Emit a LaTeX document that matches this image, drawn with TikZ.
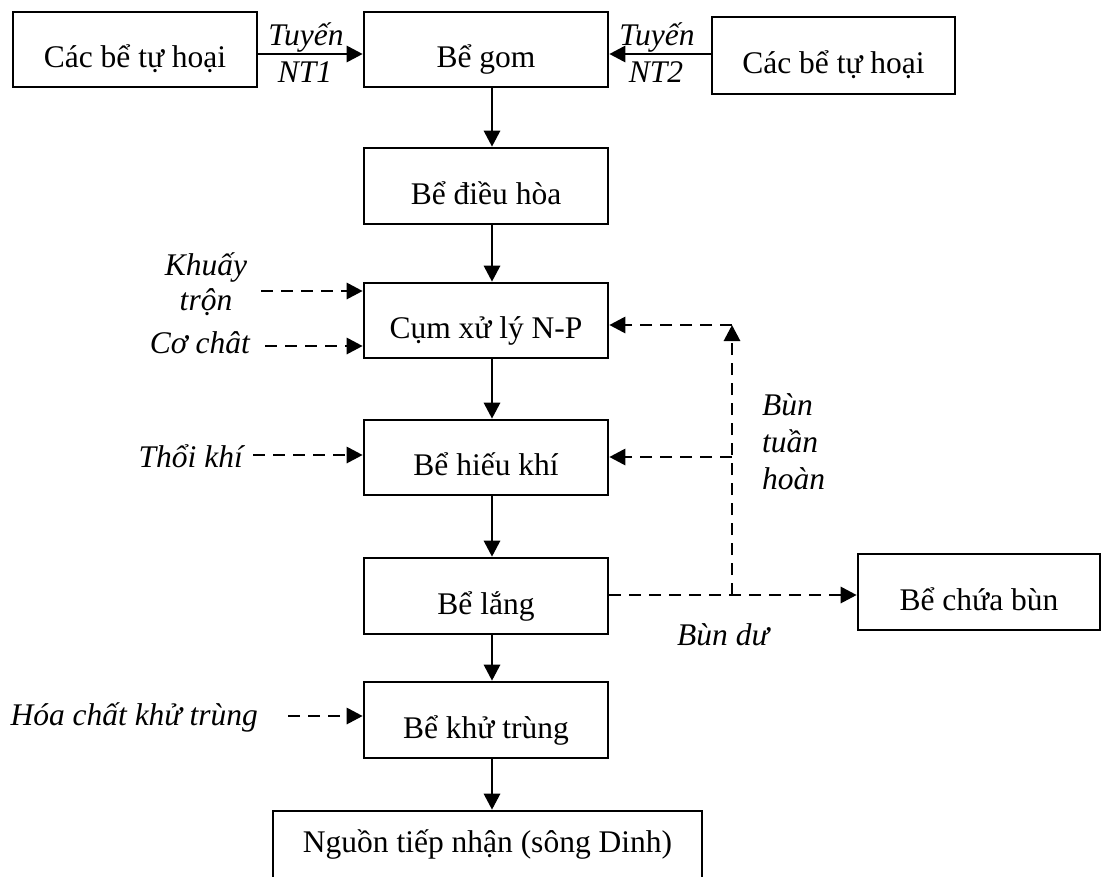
\documentclass[tikz,border=0pt]{standalone}
\usepackage{fontspec}
\setmainfont{Liberation Serif}
\usetikzlibrary{arrows.meta}
\begin{document}
\begin{tikzpicture}[x=1pt,y=-1pt,
  box/.style={draw,line width=2.6pt,minimum width=244pt,minimum height=76pt,
    inner sep=0pt,text height=40pt,text depth=4pt,
    font=\fontsize{31.5}{37}\selectfont},
  lbl/.style={inner sep=0pt,font=\fontsize{31.5}{37}\selectfont\itshape},
  flow/.style={line width=2.9pt,-{Triangle[length=16pt,width=16pt]}},
  feed/.style={flow,dash pattern=on 12pt off 8pt}]
\useasboundingbox (0,0) rectangle (1102,876);
\clip (0,0) rectangle (1102,876);

% process units
\node[box,minimum height=75pt] (srcL) at (135,49.5) {Các bể tự hoại};
\node[box,minimum height=75pt] (gom) at (486,49.5) {Bể gom};
\node[box,minimum width=243pt,minimum height=77pt] (srcR) at (833.5,55.5) {Các bể tự hoại};
\node[box] (dieuhoa) at (486,186) {Bể điều hòa};
\node[box,minimum height=75pt] (cum) at (486,320.5) {Cụm xử lý N-P};
\node[box,minimum height=75pt] (hieukhi) at (486,457.5) {Bể hiếu khí};
\node[box] (lang) at (486,596) {Bể lắng};
\node[box] (khutrung) at (486,720) {Bể khử trùng};
\node[box,minimum width=429pt,minimum height=90pt,text depth=48pt] (nguon) at (487.5,856) {Nguồn tiếp nhận (sông Dinh)};
\node[box,minimum width=242pt] (chuabun) at (979,592) {Bể chứa bùn};

% helper coordinates
\coordinate (col) at (492,0);
\coordinate (nt) at (0,54);
\coordinate (khIn) at (261,291);
\coordinate (coIn) at (265,346);
\coordinate (thIn) at (253,455);
\coordinate (hcIn) at (288,716);
\coordinate (rcBot) at (732,595);
\coordinate (rcTop) at (732,325);
\coordinate (rcMid) at (732,457);

% collection lines
\draw[flow] (srcL.east |- nt) -- (gom.west |- nt);
\draw[flow] (srcR.west |- nt) -- (gom.east |- nt);
\node[lbl,anchor=base] (nt1a) at (306,45) {Tuyến};
\node[lbl,anchor=base] (nt1b) at (305,82) {NT1};
\node[lbl,anchor=base] (nt2a) at (657,45) {Tuyến};
\node[lbl,anchor=base] (nt2b) at (656,82) {NT2};

% main treatment line
\draw[flow] (gom.south -| col) -- (dieuhoa.north -| col);
\draw[flow] (dieuhoa.south -| col) -- (cum.north -| col);
\draw[flow] (cum.south -| col) -- (hieukhi.north -| col);
\draw[flow] (hieukhi.south -| col) -- (lang.north -| col);
\draw[flow] (lang.south -| col) -- (khutrung.north -| col);
\draw[flow] (khutrung.south -| col) -- (nguon.north -| col);

% dosing and aeration inputs
\node[lbl,anchor=base] (khuay1) at (206,275) {Khuấy};
\node[lbl,anchor=base] (khuay2) at (206,310) {trộn};
\draw[feed] (khIn) -- (cum.west |- khIn);
\node[lbl,anchor=base east] (cochat) at (250,353) {Cơ chât};
\draw[feed] (coIn) -- (cum.west |- coIn);
\node[lbl,anchor=base east] (thoikhi) at (243,467) {Thổi khí};
\draw[feed] (thIn) -- (hieukhi.west |- thIn);
\node[lbl,anchor=base east] (hoachat) at (258,725) {Hóa chất khử trùng};
\draw[feed] (hcIn) -- (khutrung.west |- hcIn);

% sludge lines
\draw[feed] (lang.east |- rcBot) -- (chuabun.west |- rcBot);
\draw[feed] (rcBot) -- (rcTop);
\draw[feed] (rcTop) -- (cum.east |- rcTop);
\draw[feed] (rcMid) -- (hieukhi.east |- rcMid);
\node[lbl,anchor=base west] (bundu) at (677,645) {Bùn dư};
\node[lbl,anchor=base west] (bth1) at (762,415) {Bùn};
\node[lbl,anchor=base west] (bth2) at (762,452) {tuần};
\node[lbl,anchor=base west] (bth3) at (762,489) {hoàn};
\end{tikzpicture}
\end{document}
